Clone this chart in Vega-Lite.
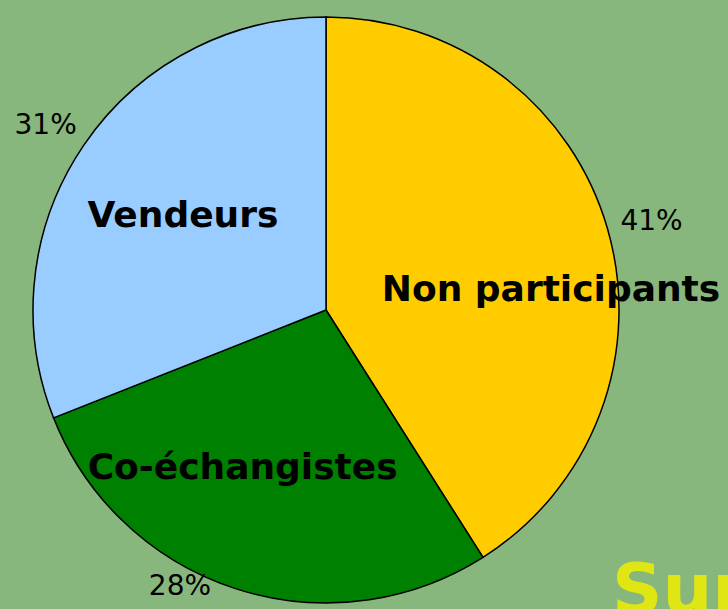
{
  "$schema": "https://vega.github.io/schema/vega-lite/v6.json",
  "autosize": "none",
  "width": 652,
  "height": 594,
  "padding": {"left": 0, "top": 13, "right": 76, "bottom": 2},
  "background": "#88B77E",
  "config": {"view": {"stroke": null}},
  "title": {
    "text": "Sur",
    "orient": "bottom",
    "anchor": "start",
    "frame": "group",
    "align": "left",
    "baseline": "alphabetic",
    "dx": 612,
    "offset": -40,
    "font": "DejaVu Sans",
    "fontSize": 70,
    "fontWeight": "bold",
    "color": "#E0E614"
  },
  "data": {
    "values": [
      {"cat": "Non participants", "share": 0.41, "rang": 1},
      {"cat": "Co-échangistes", "share": 0.28, "rang": 2},
      {"cat": "Vendeurs", "share": 0.31, "rang": 3}
    ]
  },
  "encoding": {
    "theta": {"field": "share", "type": "quantitative", "stack": true},
    "order": {"field": "rang", "type": "quantitative", "sort": "ascending"}
  },
  "layer": [
    {
      "mark": {"type": "arc", "radius": 293, "stroke": "#000000", "strokeWidth": 1.5},
      "encoding": {
        "color": {
          "field": "cat",
          "type": "nominal",
          "scale": {"domain": ["Non participants", "Co-échangistes", "Vendeurs"], "range": ["#FFCC00", "#008000", "#99CCFF"]},
          "legend": null
        }
      }
    },
    {
      "mark": {"type": "text", "radius": 173, "dy": 3, "font": "DejaVu Sans", "fontSize": 36, "fontWeight": "bold", "color": "#000000", "baseline": "middle", "align": "center"},
      "encoding": {"text": {"condition": {"test": "datum.cat === 'Vendeurs'", "field": "cat"}, "value": ""}}
    },
    {
      "mark": {"type": "text", "radius": 178, "dy": 1, "thetaOffset": 0.173, "font": "DejaVu Sans", "fontSize": 36, "fontWeight": "bold", "color": "#000000", "baseline": "middle", "align": "center"},
      "encoding": {"text": {"condition": {"test": "datum.cat === 'Co-échangistes'", "field": "cat"}, "value": ""}}
    },
    {
      "mark": {"type": "text", "radius": 226, "dy": 1, "thetaOffset": 0.19, "font": "DejaVu Sans", "fontSize": 36, "fontWeight": "bold", "color": "#000000", "baseline": "middle", "align": "center"},
      "encoding": {"text": {"condition": {"test": "datum.cat === 'Non participants'", "field": "cat"}, "value": ""}}
    },
    {
      "mark": {"type": "text", "radius": 339, "dy": 7, "font": "DejaVu Sans", "fontSize": 28, "color": "#000000", "baseline": "middle", "align": "center"},
      "encoding": {"text": {"condition": {"test": "datum.cat !== 'Co-échangistes'", "field": "share", "format": ".0%"}, "value": ""}}
    },
    {
      "mark": {"type": "text", "radius": 312, "dy": 1, "thetaOffset": 0.173, "font": "DejaVu Sans", "fontSize": 28, "color": "#000000", "baseline": "middle", "align": "center"},
      "encoding": {"text": {"condition": {"test": "datum.cat === 'Co-échangistes'", "field": "share", "format": ".0%"}, "value": ""}}
    }
  ]
}
